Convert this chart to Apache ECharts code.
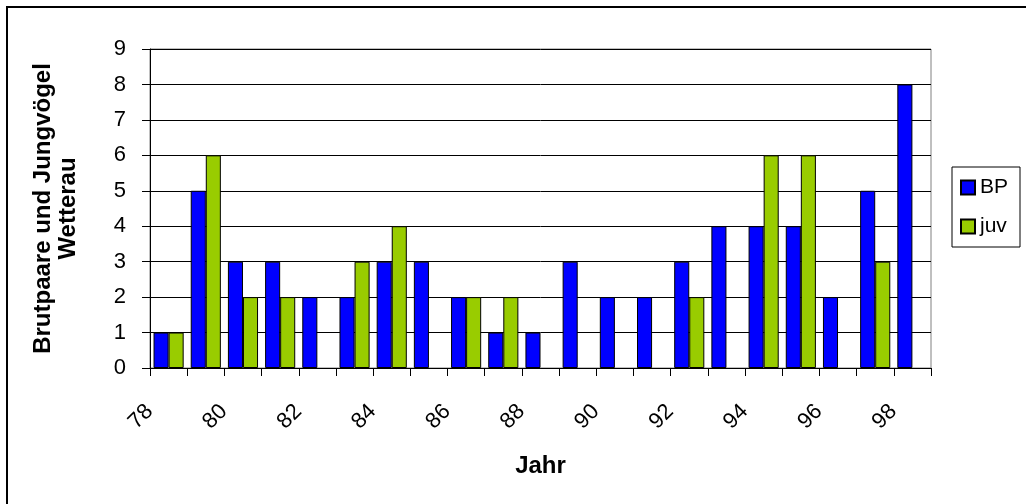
<!DOCTYPE html>
<html>
<head>
<meta charset="utf-8">
<script src="https://cdn.jsdelivr.net/npm/echarts@6/dist/echarts.min.js"></script>
<style>html,body{margin:0;padding:0;background:#fff}#c{width:1026px;height:504px}</style>
</head>
<body>
<div id="c"></div>
<script>
const years = ['78','79','80','81','82','83','84','85','86','87','88','89','90','91','92','93','94','95','96','97','98'];
const bp  = [1,5,3,3,2,2,3,3,2,1,1,3,2,2,3,4,4,4,2,5,8];
const juv = [1,6,2,2,0,3,4,0,2,2,0,0,0,0,2,0,6,6,0,3,0];
const yTicks = [0,1,2,3,4,5,6,7,8,9];

const hideZero = arr => arr.map(v => v === 0 ? '-' : v);

const chart = echarts.init(document.getElementById('c'), null, {renderer:'canvas'});
const F = '"Liberation Sans", Arial, sans-serif';
chart.setOption({
  animation:false,
  backgroundColor:'#fff',
  textStyle:{fontFamily:F},
  graphic:[{type:'rect', shape:{x:7,y:7,width:1040,height:520}, style:{fill:'none', stroke:'#000', lineWidth:2}, z:-1}],
  grid:{left:150, right:95, top:49, bottom:136, show:true, borderColor:'#808080', borderWidth:1},
  legend:{
    orient:'vertical', left:952, top:167, padding:[10,12,10,8],
    icon:'rect', itemWidth:14, itemHeight:14, itemGap:18,
    borderColor:'#000', borderWidth:1,
    textStyle:{fontFamily:F, fontSize:21, color:'#000'},
    data:['BP','juv']
  },
  xAxis:{
    type:'category', data:years,
    name:'Jahr', nameLocation:'middle', nameGap:86,
    nameTextStyle:{fontFamily:F, fontSize:24, fontWeight:'bold', color:'#000'},
    axisLine:{lineStyle:{color:'#000', width:1}},
    axisTick:{show:true, interval:0, length:8, lineStyle:{color:'#000'}},
    axisLabel:{interval:1, rotate:45, margin:21, padding:[0,27,0,0], fontFamily:F, fontSize:22, color:'#000'},
    splitLine:{show:false}
  },
  yAxis:{
    type:'value', min:yTicks[0], max:yTicks[yTicks.length-1], interval:1,
    name:'Brutpaare und Jungvögel\nWetterau', nameLocation:'middle', nameGap:69, nameRotate:90,
    nameTextStyle:{fontFamily:F, fontSize:24, fontWeight:'bold', color:'#000', lineHeight:25},
    axisLine:{show:true, lineStyle:{color:'#000', width:1}},
    axisTick:{show:true, length:8, lineStyle:{color:'#000'}},
    axisLabel:{margin:24, fontFamily:F, fontSize:22, color:'#000'},
    splitLine:{show:true, lineStyle:{color:'#000', width:1}}
  },
  series:[
    {name:'BP', type:'bar', data:hideZero(bp), barGap:'0%', barCategoryGap:'19%',
     itemStyle:{color:'#0000FF', borderColor:'#000', borderWidth:1}},
    {name:'juv', type:'bar', data:hideZero(juv), barGap:'0%', barCategoryGap:'19%',
     itemStyle:{color:'#99CC00', borderColor:'#000', borderWidth:1}}
  ]
});
</script>
</body>
</html>
